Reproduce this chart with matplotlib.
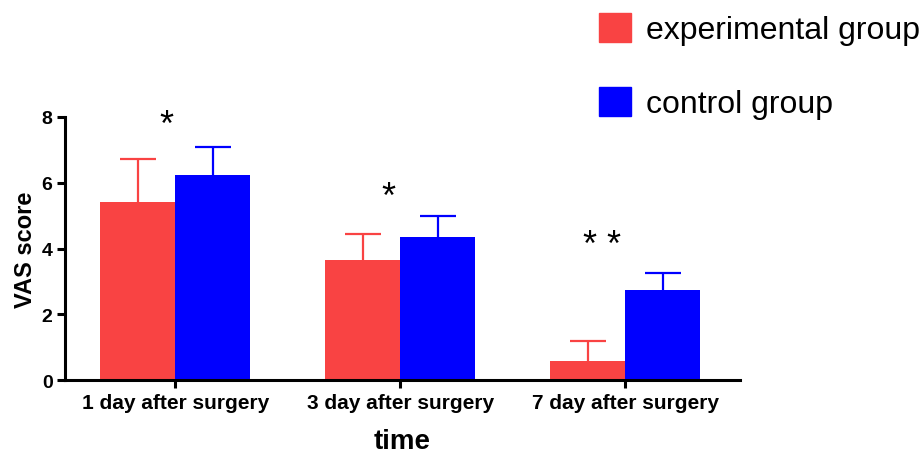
import matplotlib.pyplot as plt
import numpy as np
from matplotlib.patches import Patch

plt.rcParams['font.family'] = ['Liberation Sans', 'DejaVu Sans']

categories = ['1 day after surgery', '3 day after surgery', '7 day after surgery']
exp_mean = [5.41, 3.65, 0.58]
exp_sd = [1.31, 0.79, 0.61]
ctl_mean = [6.23, 4.35, 2.74]
ctl_sd = [0.85, 0.63, 0.51]
marks = ['*', '*', '* *']
mark_y = [7.75, 5.55, 4.1]

RED = '#f94343'
BLUE = '#0000ff'

fig = plt.figure(figsize=(9.21, 4.60), dpi=100)
ax = fig.add_axes([0.0706, 0.1717, 0.7329, 0.5718])

x = np.arange(len(categories))
w = 1 / 3
ekw = dict(lw=1.6, capthick=1.6)
b1 = ax.bar(x - w / 2, exp_mean, w, color=RED,
            yerr=[np.zeros(3), exp_sd], ecolor=RED, capsize=13, error_kw=ekw)
b2 = ax.bar(x + w / 2, ctl_mean, w, color=BLUE,
            yerr=[np.zeros(3), ctl_sd], ecolor=BLUE, capsize=13, error_kw=ekw)
# only the upper caps
for b in (b1, b2):
    caps = b.errorbar.lines[1]
    caps[0].set_visible(False)

offs = [-0.04, -0.055, -0.105]
for xi, m, my, o in zip(x, marks, mark_y, offs):
    ax.text(xi + o, my, m, ha='center', va='center', fontsize=26)

ax.set_xlim(-0.49, 2.51)
ax.set_ylim(0, 8)
ax.set_yticks([0, 2, 4, 6, 8])
ax.set_xticks(x)
ax.set_xticklabels(categories, fontsize=15, fontweight='bold')
for lab in ax.get_yticklabels():
    lab.set_fontsize(14)
    lab.set_fontweight('bold')
ax.set_ylabel('VAS score', fontsize=17, fontweight='bold', labelpad=3)
ax.set_xlabel('time', fontsize=20, fontweight='bold', labelpad=12)

for s in ['top', 'right']:
    ax.spines[s].set_visible(False)
for s in ['left', 'bottom']:
    ax.spines[s].set_linewidth(2.2)
ax.tick_params(width=2.2, length=6, pad=3)

handles = [Patch(color=RED, label='experimental group'),
           Patch(color=BLUE, label='control group')]
fig.legend(handles=handles, loc='upper left', bbox_to_anchor=(0.637, 0.997),
           frameon=False, fontsize=23, handlelength=1.0, handleheight=1.0,
           handletextpad=0.45, labelspacing=1.3, borderaxespad=0)

fig.savefig('out.png', dpi=100)
